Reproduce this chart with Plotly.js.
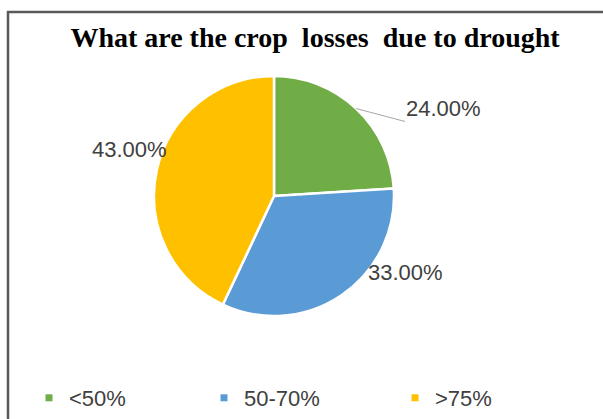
<!DOCTYPE html>
<html><head><meta charset="utf-8">
<script src="https://cdn.plot.ly/plotly-3.0.1.min.js"></script>
<style>html,body{margin:0;padding:0;background:#fff;}#chart{width:603px;height:419px;}</style>
</head><body><div id="chart"></div>
<script>
var categories = ['<50%', '50-70%', '>75%'];
var values = [24, 33, 43];
var colors = ['#70AD47', '#5B9BD5', '#FFC000'];
var titleText = 'What are the crop&#160; losses&#160; due to drought';

var W = 603, H = 419;
function px(x){return x / W;}
function py(y){return 1 - y / H;}

// pie geometry (pixels)
var cx = 274, cy = 196, R = 120;
// label placement styles: pixel offsets from the slice's outer edge mid-point
var labelDx = [49, 64, -27];
var labelDy = [13, -23, -20];
var labelArrow = [true, false, false];
var legendTextStart = [74, 249, 440];

var labelFont = {family: 'Liberation Sans, Arial, sans-serif', size: 22, color: '#404040'};

var total = values.reduce(function(a, b){return a + b;}, 0);
var annotations = [];
var cum = 0;
values.forEach(function(v, i){
  var mid = (cum + v / 2) / total * 2 * Math.PI;
  cum += v;
  var ex = cx + R * Math.sin(mid);
  var ey = cy - R * Math.cos(mid);
  var txt = (v / total * 100).toFixed(2) + '%';
  if (labelArrow[i]) {
    annotations.push({
      xref: 'paper', yref: 'paper', x: px(ex), y: py(ey),
      text: txt, showarrow: true, arrowhead: 0, arrowwidth: 1, arrowcolor: '#a6a6a6',
      ax: labelDx[i], ay: labelDy[i], xanchor: 'left', yanchor: 'bottom',
      font: labelFont, borderpad: 0
    });
  } else {
    annotations.push({
      xref: 'paper', yref: 'paper', x: px(ex), y: py(ey),
      text: txt, showarrow: false, xanchor: 'center', yanchor: 'middle',
      xshift: labelDx[i], yshift: -labelDy[i],
      font: labelFont
    });
  }
});

var pie = {
  type: 'pie',
  labels: categories,
  values: values,
  sort: false,
  direction: 'clockwise',
  rotation: 0,
  marker: {colors: colors, line: {color: '#ffffff', width: 2.5}},
  textinfo: 'none',
  hoverinfo: 'none',
  showlegend: false,
  domain: {x: [px(cx - R), px(cx + R)], y: [py(cy + R), py(cy - R)]}
};

var data = [pie];
var legendNames = ['legend', 'legend2', 'legend3'];
categories.forEach(function(c, i){
  data.push({
    type: 'scatter', mode: 'markers', x: [null], y: [null],
    name: c, legend: legendNames[i], showlegend: true, hoverinfo: 'none',
    marker: {symbol: 'square', size: 7, color: colors[i]}
  });
});

var legendFont = {family: 'Liberation Sans, Arial, sans-serif', size: 22, color: '#404040'};

var layout = {
  width: W, height: H,
  margin: {l: 0, r: 0, t: 0, b: 0},
  paper_bgcolor: '#ffffff',
  plot_bgcolor: 'rgba(0,0,0,0)',
  xaxis: {visible: false, domain: [0, 0.01]},
  yaxis: {visible: false, domain: [0, 0.01]},
  title: {
    text: '<b>' + titleText + '</b>',
    font: {family: 'Liberation Serif, Times New Roman, serif', size: 28, color: '#000000'},
    x: px(315), xanchor: 'center', y: py(37), yanchor: 'middle'
  },
  showlegend: true,
  annotations: annotations,
  shapes: [
    {type: 'line', xref: 'paper', yref: 'paper', x0: px(7), x1: 1.01, y0: py(12), y1: py(12), line: {color: '#595959', width: 2.5}},
    {type: 'line', xref: 'paper', yref: 'paper', x0: px(8), x1: px(8), y0: py(11), y1: -0.02, line: {color: '#595959', width: 2.5}}
  ]
};
legendNames.forEach(function(n, i){
  layout[n] = {
    orientation: 'h', x: px(legendTextStart[i] - 45), xanchor: 'left',
    y: py(398), yanchor: 'middle', font: legendFont, itemwidth: 30,
    bgcolor: 'rgba(0,0,0,0)'
  };
});

Plotly.newPlot('chart', data, layout, {displayModeBar: false, staticPlot: true});
</script>
</body></html>
